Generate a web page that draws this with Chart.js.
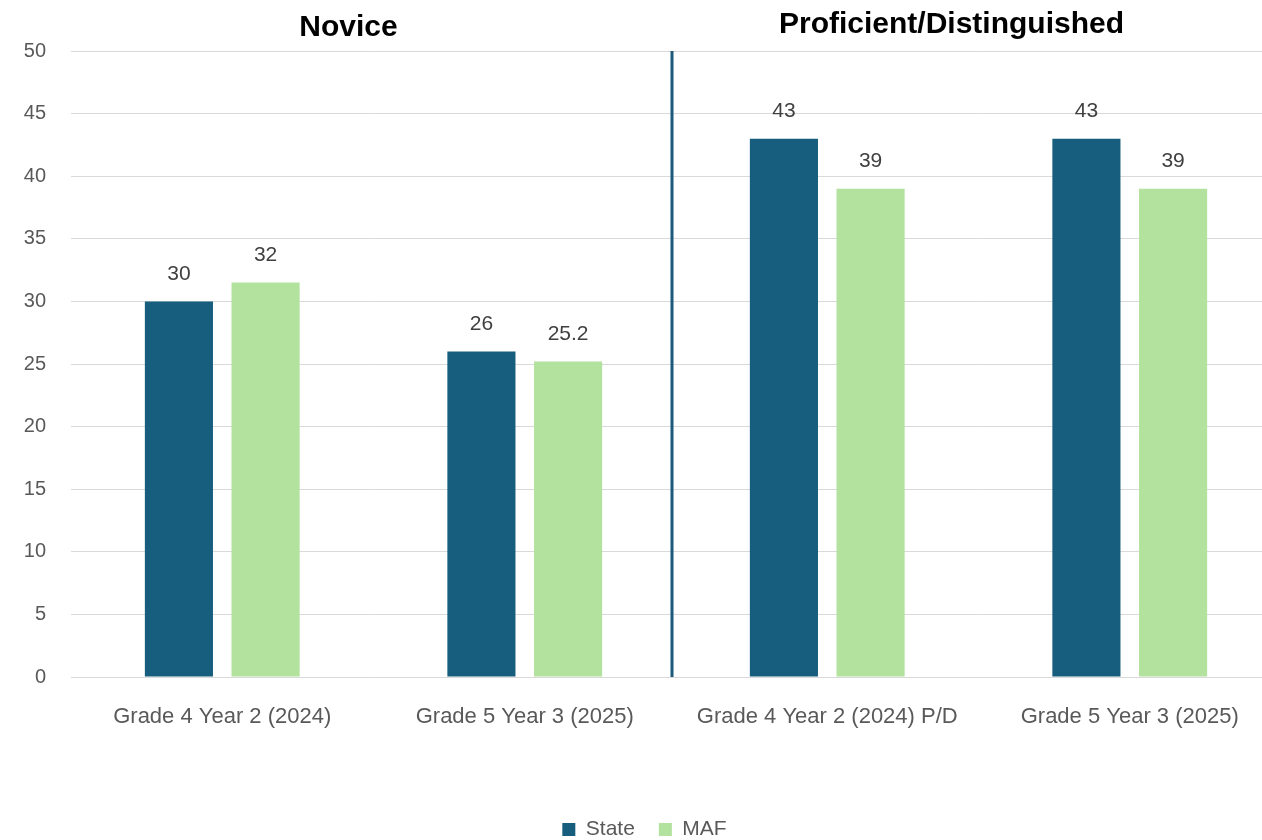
<!DOCTYPE html>
<html>
<head>
<meta charset="utf-8">
<script src="https://cdn.jsdelivr.net/npm/chart.js@4.4.1/dist/chart.umd.min.js"></script>
<style>
  html, body { margin: 0; padding: 0; background: #fff; overflow: hidden; }
  #wrap { width: 1281px; height: 840px; }
</style>
</head>
<body>
<div id="wrap"><canvas id="bars"></canvas></div>
<script>
// data
const categories = ['Grade 4 Year 2 (2024)', 'Grade 5 Year 3 (2025)', 'Grade 4 Year 2 (2024) P/D', 'Grade 5 Year 3 (2025)'];
const stateValues = [30, 26, 43, 43];
const mafValues = [31.5, 25.2, 39, 39];
const stateLabels = ['30', '26', '43', '43'];
const mafLabels = ['32', '25.2', '39', '39'];
const sectionTitles = ['Novice', 'Proficient/Distinguished'];
const yTicks = [0, 5, 10, 15, 20, 25, 30, 35, 40, 45, 50];

const sans = '"Liberation Sans", Arial, sans-serif';

// value labels above each bar
const barLabels = {
  id: 'barLabels',
  afterDatasetsDraw(chart) {
    const c = chart.ctx;
    const texts = [stateLabels, mafLabels];
    c.save();
    c.font = '21px ' + sans;
    c.fillStyle = '#404040';
    c.textAlign = 'center';
    c.textBaseline = 'bottom';
    chart.data.datasets.forEach((ds, d) => {
      chart.getDatasetMeta(d).data.forEach((bar, i) => {
        c.fillText(texts[d][i], bar.x, bar.y - 17);
      });
    });
    c.restore();
  }
};

// divider between the two sections + section headings
const sections = {
  id: 'sections',
  afterDraw(chart) {
    const c = chart.ctx;
    const x = chart.scales.x;
    const area = chart.chartArea;
    const mid = (x.getPixelForValue(1) + x.getPixelForValue(2)) / 2 - 4;
    c.save();
    c.strokeStyle = '#1b5a78';
    c.lineWidth = 3;
    c.beginPath();
    c.moveTo(mid, area.top);
    c.lineTo(mid, area.bottom);
    c.stroke();

    c.font = 'bold 30px ' + sans;
    c.fillStyle = '#000';
    c.textAlign = 'center';
    c.textBaseline = 'middle';
    const left = (x.getPixelForValue(0) + x.getPixelForValue(1)) / 2 - 25;
    const right = (x.getPixelForValue(2) + x.getPixelForValue(3)) / 2 - 27;
    c.fillText(sectionTitles[0], left, 28);
    c.fillText(sectionTitles[1], right, 25);
    c.restore();
  }
};

new Chart(document.getElementById('bars'), {
  type: 'bar',
  data: {
    labels: categories,
    datasets: [
      { label: 'State', data: stateValues, backgroundColor: '#175e7e' },
      { label: 'MAF', data: mafValues, backgroundColor: '#b3e29e' }
    ]
  },
  options: {
    responsive: true,
    maintainAspectRatio: false,
    animation: false,
    layout: { padding: { top: 51, left: 8, right: 0, bottom: -10 } },
    datasets: {
      bar: { categoryPercentage: 0.573, barPercentage: 0.786 }
    },
    scales: {
      x: {
        grid: { display: false },
        border: { color: '#d9d9d9' },
        ticks: { color: '#595959', font: { family: sans, size: 22 }, maxRotation: 0, padding: 19 },
        afterFit: (s) => { s.height = 118; }
      },
      y: {
        min: 0,
        max: 50,
        afterBuildTicks: (s) => { s.ticks = yTicks.map(v => ({ value: v })); },
        grid: { color: '#d9d9d9', drawTicks: false },
        border: { display: false },
        ticks: { color: '#595959', font: { family: sans, size: 20 }, padding: 25 },
        afterFit: (s) => { s.width = 63; }
      }
    },
    plugins: {
      tooltip: { enabled: false },
      legend: {
        position: 'bottom',
        labels: {
          color: '#595959',
          font: { family: sans, size: 21 },
          boxWidth: 13,
          boxHeight: 13,
          padding: 24
        }
      }
    }
  },
  plugins: [barLabels, sections]
});
</script>
</body>
</html>
